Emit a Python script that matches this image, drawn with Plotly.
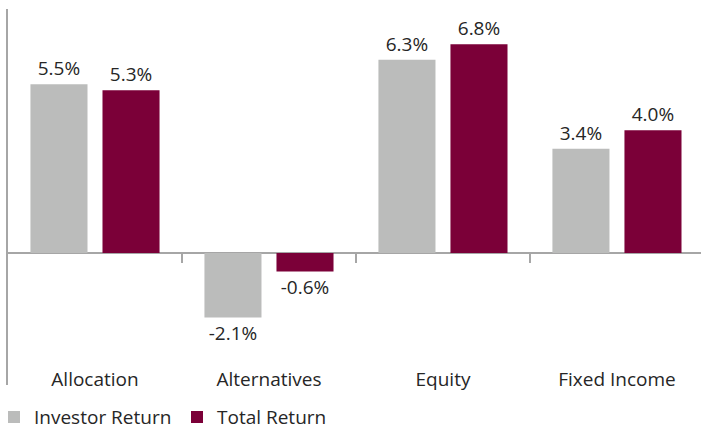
import plotly.graph_objects as go

categories = ["Allocation", "Alternatives", "Equity", "Fixed Income"]
investor_return = [5.5, -2.1, 6.3, 3.4]
total_return = [5.3, -0.6, 6.8, 4.0]
series_names = ["Investor Return", "Total Return"]
colors = ["#BBBCBB", "#7B0038"]

FONT = "Open Sans"
TXT = "#262626"
AXC = "#A6A6A6"

fig = go.Figure()
for name, vals, col in zip(series_names, [investor_return, total_return], colors):
    fig.add_trace(go.Bar(
        x=categories, y=vals, name=name,
        marker=dict(color=col, line=dict(width=0)),
        texttemplate="%{y:.1f}%", textposition="outside",
        textfont=dict(family=FONT, size=19, color=TXT),
        constraintext="none", cliponaxis=False,
    ))

# boundary ticks hanging from zero line
shapes = []
for i in range(len(categories) - 1):
    shapes.append(dict(type="line", xref="x", yref="y", x0=i + 0.5, x1=i + 0.5,
                       ysizemode="pixel", yanchor=0, y0=0, y1=-10,
                       line=dict(color=AXC, width=2)))

fig.update_layout(
    width=701, height=429,
    margin=dict(l=8, r=0, t=9, b=44, autoexpand=False),
    paper_bgcolor="white", plot_bgcolor="white",
    barmode="group", bargap=0.172, bargroupgap=0.208,
    font=dict(family=FONT, size=19, color=TXT),
    showlegend=True,
    legend=dict(orientation="h", x=-0.0202, xanchor="left", y=-0.035, yanchor="top",
                font=dict(family=FONT, size=19, color=TXT),
                entrywidth=138, entrywidthmode="pixels", traceorder="normal"),
    shapes=shapes,
    xaxis=dict(range=[-0.5, 3.483], showline=False, ticks="", showgrid=False, automargin=False,
               tickfont=dict(family=FONT, size=19, color=TXT), ticklabelstandoff=-19),
    yaxis=dict(range=[-4.3, 7.95], showline=True, linecolor=AXC, linewidth=2, automargin=False,
               showgrid=False, showticklabels=False, ticks="",
               zeroline=True, zerolinecolor=AXC, zerolinewidth=2),
)

fig.write_html("out.html", config={"displayModeBar": False},
               post_script="document.body.style.margin='0';document.body.style.padding='0';")
